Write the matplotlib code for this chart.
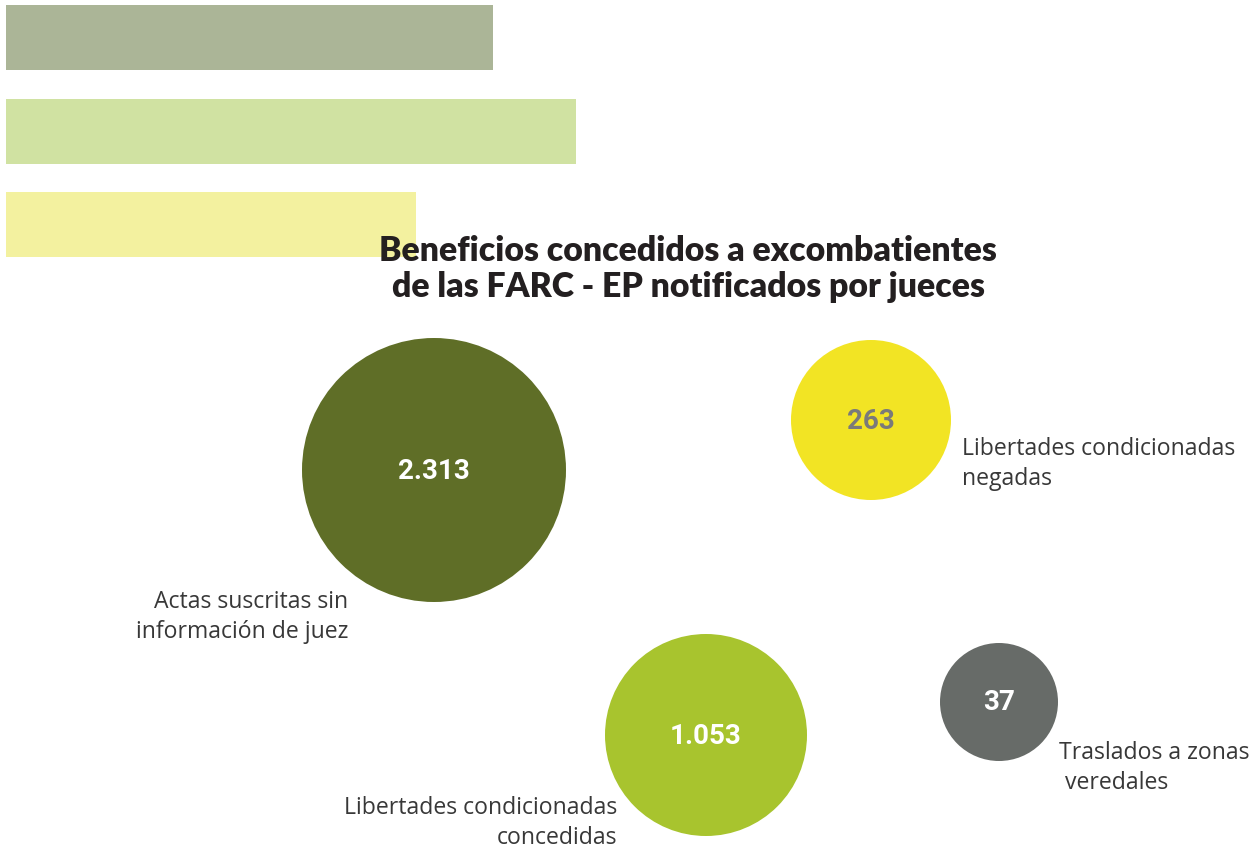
import matplotlib.pyplot as plt
from matplotlib.patches import Circle, Rectangle

# data
categories = ['Actas suscritas sin\ninformación de juez',
              'Libertades condicionadas\nnegadas',
              'Libertades condicionadas\nconcedidas',
              'Traslados a zonas\n veredales']
values = [2313, 263, 1053, 37]
value_labels = ['2.313', '263', '1.053', '37']

# layout (pixel coords, y down)
centers = [(434, 470), (871, 420), (706, 735), (999, 702)]
radii = [132, 80, 101, 59]
colors = ['#5F6E27', '#F2E424', '#A8C42E', '#676B68']
num_colors = ['white', '#7A7A7A', 'white', 'white']
label_pos = [(348, 617, 'right'), (962, 464, 'left'), (617, 823, 'right'), (1059, 768, 'left')]

# decorative bars at top
bar_widths = [487, 570, 410]
bar_tops = [5, 99, 192]
bar_colors = ['#ABB597', '#D0E2A2', '#F3F19F']

fig = plt.figure(figsize=(12.55, 8.5), dpi=100)
ax = fig.add_axes([0, 0, 1, 1])
ax.set_xlim(0, 1255)
ax.set_ylim(850, 0)
ax.set_aspect('equal')
ax.axis('off')

for w, t, c in zip(bar_widths, bar_tops, bar_colors):
    ax.add_patch(Rectangle((6, t), w, 65, color=c, lw=0))

ax.text(688, 269, 'Beneficios concedidos a excombatientes\nde las FARC - EP notificados por jueces',
        ha='center', va='center', fontsize=24.3, fontweight='heavy', color='#231F20',
        family='Lato', linespacing=1.17)

for i, cat in enumerate(categories):
    cx, cy = centers[i]
    ax.add_patch(Circle((cx, cy), radii[i], color=colors[i], lw=0))
    ax.text(cx, cy + 1, value_labels[i], ha='center', va='center', fontsize=20,
            fontweight='bold', color=num_colors[i], family='Roboto')
    lx, ly, ha = label_pos[i]
    ax.text(lx, ly, cat, ha=ha, va='center', fontsize=16.6, color='#383838',
            family='Open Sans', linespacing=1.28)

fig.savefig('out.png', dpi=100)
